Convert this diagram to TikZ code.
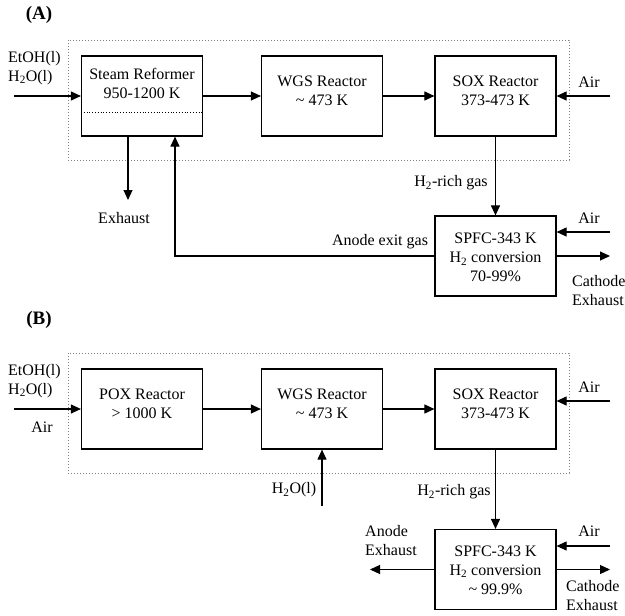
\documentclass[tikz,border=0pt]{standalone}
\usepackage{fontspec}
\setmainfont{Liberation Serif}
\usetikzlibrary{arrows.meta}
\begin{document}
\begin{tikzpicture}[x=1pt,y=-1pt,
 every node/.style={font=\fontsize{16}{19}\selectfont, inner sep=0pt},
 blk/.style={draw, line width=1.2pt, minimum width=121pt, minimum height=80pt},
 arr/.style={line width=1.1pt, -{Triangle[length=10pt,width=9pt]}},
 ln/.style={line width=1.1pt},
 dbox/.style={draw=gray, dotted, line width=1pt},
 inner/.style={dotted, line width=0.8pt},
 txt/.style={align=center},
 ltxt/.style={align=left, anchor=west},
 panel/.style={font=\fontsize{19}{22}\selectfont\bfseries}]
\useasboundingbox (0,0) rectangle (625,616);

% ---------------- Panel A ----------------
\node[panel] (labA) at (39,15) {(A)};
\draw[dbox] (68,40) rectangle (569,160);

\node[blk] (srA) at (142,96) {};
\node[blk] (wgsA) at (322,96) {};
\node[blk] (soxA) at (495.5,96) {};
\node[blk] (fcA) at (495.5,256) {};

\coordinate (srLine) at (0,112);
\draw[inner] (srA.west |- srLine) -- (srA.east |- srLine);

\node[txt] (srAt) at (142,83.5) {Steam Reformer\\950-1200 K};
\node[txt] (wgsAt) at (322,90.5) {WGS Reactor\\\textasciitilde\ 473 K};
\node[txt] (soxAt) at (495.5,90.5) {SOX Reactor\\373-473 K};
\node[txt] (fcAt) at (495.5,257.5) {SPFC-343 K\\H\textsubscript{2} conversion\\70-99\%};

\node[ltxt] (feedA) at (8,68) {EtOH(l)\\H\textsubscript{2}O(l)};
\node (airA1t) at (589,82) {Air};
\node (airA2t) at (589,218) {Air};
\node (exAt) at (124,218) {Exhaust};
\node (h2A) at (451,183) {H\textsubscript{2}-rich gas};
\node (anA) at (380,242) {Anode exit gas};
\node[ltxt] (cathAt) at (572,291) {Cathode\\Exhaust};

\coordinate (inA) at (14,96);
\draw[arr] (inA) -- (srA.west);
\draw[arr] (srA) -- (wgsA);
\draw[arr] (wgsA) -- (soxA);
\coordinate (airA1) at (610,96);
\draw[arr] (airA1) -- (soxA.east);
\draw[arr] (soxA) -- (fcA);
\coordinate (airA2) at (610,232);
\draw[arr] (airA2) -- (airA2 -| fcA.east);
\coordinate (cathA) at (610,256);
\draw[arr] (fcA.east) -- (cathA);
\coordinate (exA) at (128,200);
\draw[arr] (srA.south -| exA) -- (exA);
\coordinate (fbA) at (175,256);
\draw[arr] (fcA.west) -- (fbA) -- (fbA |- srA.south);

% ---------------- Panel B ----------------
\node[panel] (labB) at (39,320) {(B)};
\draw[dbox] (68,353) rectangle (569,473);

\node[blk] (poxB) at (142,409) {};
\node[blk] (wgsB) at (322,409) {};
\node[blk] (soxB) at (495.5,409) {};
\node[blk] (fcB) at (495.5,569.5) {};

\node[txt] (poxBt) at (142,404) {POX Reactor\\\textgreater\ 1000 K};
\node[txt] (wgsBt) at (322,404) {WGS Reactor\\\textasciitilde\ 473 K};
\node[txt] (soxBt) at (495.5,404) {SOX Reactor\\373-473 K};
\node[txt] (fcBt) at (495.5,570) {SPFC-343 K\\H\textsubscript{2} conversion\\\textasciitilde\ 99.9\%};

\node[ltxt] (feedB) at (8,381) {EtOH(l)\\H\textsubscript{2}O(l)};
\node (airBin) at (42,427) {Air};
\node (airB1t) at (589,387) {Air};
\node (airB2t) at (589,531) {Air};
\node (h2oBt) at (294,490) {H\textsubscript{2}O(l)};
\node (h2B) at (454,492) {H\textsubscript{2}-rich gas};
\node[ltxt] (anBt) at (365,540.5) {Anode\\Exhaust};
\node[ltxt] (cathBt) at (566,596) {Cathode\\Exhaust};

\coordinate (inB) at (14,409);
\draw[arr] (inB) -- (poxB.west);
\draw[arr] (poxB) -- (wgsB);
\draw[arr] (wgsB) -- (soxB);
\coordinate (airB1) at (610,401);
\draw[arr] (airB1) -- (airB1 -| soxB.east);
\coordinate (h2oB) at (322,506);
\draw[arr] (h2oB) -- (wgsB.south);
\draw[arr] (soxB) -- (fcB);
\coordinate (anB) at (370,569.5);
\draw[arr] (fcB.west) -- (anB);
\coordinate (airB2) at (610,546);
\draw[arr] (airB2) -- (airB2 -| fcB.east);
\coordinate (cathB) at (610,569.5);
\draw[arr] (fcB.east) -- (cathB);
\end{tikzpicture}
\end{document}
